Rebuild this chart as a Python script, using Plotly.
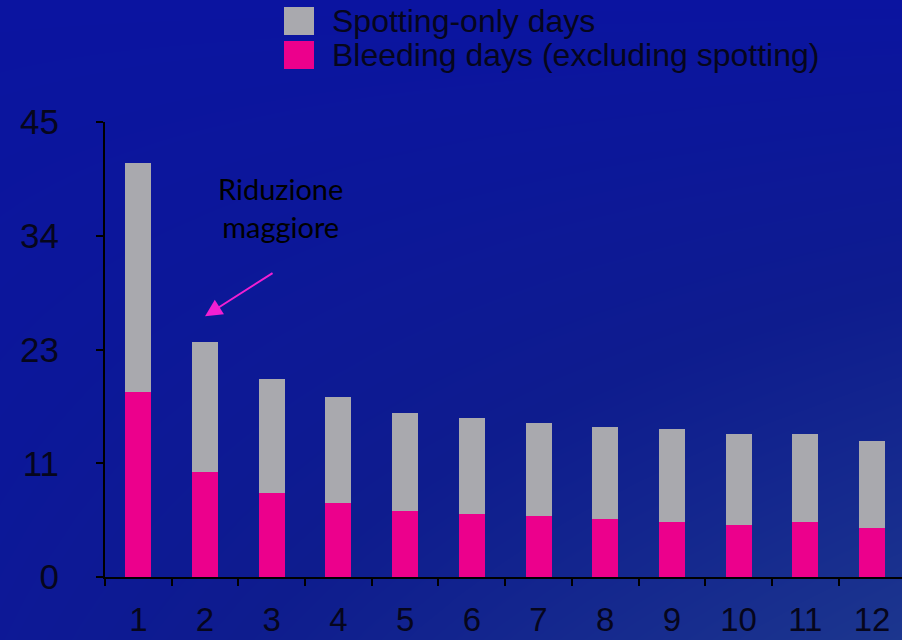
import numpy as np
import plotly.graph_objects as go

# Reference periods (x categories)
periods = ["1", "2", "3", "4", "5", "6", "7", "8", "9", "10", "11", "12"]
# Mean bleeding days (excluding spotting) per period
bleeding_days = [18.3, 10.4, 8.3, 7.3, 6.5, 6.2, 6.0, 5.7, 5.4, 5.1, 5.4, 4.8]
# Mean spotting-only days per period (stacked on top of bleeding)
spotting_days = [22.6, 12.8, 11.3, 10.5, 9.7, 9.5, 9.2, 9.1, 9.2, 9.0, 8.7, 8.7]
# Y axis ticks: evenly spaced quarters of 45, labelled rounded
y_tickvals = [0, 11.25, 22.5, 33.75, 45]
y_ticktext = ["0", "11", "23", "34", "45"]

PINK = "#ec008c"
GREY = "#a9a9ae"
INK = "#06061c"

# Blue slide background: a soft gradient, brighter blue on top,
# a little greyer towards the lower right.
ny, nx = 48, 72
gy = np.linspace(0, 1, ny)[:, None]   # 0 = bottom, 1 = top
gx = np.linspace(0, 1, nx)[None, :]
shade = np.clip((1 - gy) * (0.25 + 0.75 * gx), 0, 1)

fig = go.Figure()
fig.add_trace(go.Heatmap(
    z=shade, x=np.linspace(0, 1, nx), y=np.linspace(0, 1, ny),
    zmin=0, zmax=1, zsmooth="best", showscale=False, hoverinfo="skip",
    colorscale=[[0, "#0b14a0"], [0.45, "#0e1c8e"], [1, "#1c368e"]],
    xaxis="x", yaxis="y",
))

fig.add_trace(go.Bar(
    x=periods, y=bleeding_days, name="Bleeding days (excluding spotting)",
    marker=dict(color=PINK, line=dict(width=0)), width=0.39,
    xaxis="x2", yaxis="y2",
))
fig.add_trace(go.Bar(
    x=periods, y=spotting_days, name="Spotting-only days",
    marker=dict(color=GREY, line=dict(width=0)), width=0.39,
    xaxis="x2", yaxis="y2",
))

legend_items = [("Spotting-only days", GREY), ("Bleeding days (excluding spotting)", PINK)]
shapes = []
annotations = []
for i, (label, color) in enumerate(legend_items):
    top = 1 - (7 + i * 34) / 640
    shapes.append(dict(type="rect", xref="paper", yref="paper",
                       x0=284 / 902, x1=314 / 902, y0=top - 28 / 640, y1=top,
                       fillcolor=color, line=dict(width=0), layer="above"))
    annotations.append(dict(text=label, xref="paper", yref="paper",
                            x=330 / 902, y=top - 14 / 640, xanchor="left", yanchor="middle",
                            showarrow=False,
                            font=dict(family="Liberation Sans", size=32, color=INK)))

annotations.append(dict(
    text="Riduzione<br>maggiore", xref="paper", yref="paper",
    x=280 / 902, y=1 - 207 / 640, xanchor="center", yanchor="middle",
    showarrow=False, font=dict(family="Lato", size=29, color="#000000"),
))
# Arrow pointing at the second period's bar (category index 1)
annotations.append(dict(
    text="", x=periods.index("2"), y=25.8, xref="x2", yref="y2",
    ax=69, ay=-44, showarrow=True, arrowhead=2, arrowsize=1.7,
    arrowwidth=2, arrowcolor="#f21fd2",
))

fig.update_layout(
    width=902, height=640,
    margin=dict(l=0, r=0, t=0, b=0, autoexpand=False),
    paper_bgcolor="#0b14a0", plot_bgcolor="rgba(0,0,0,0)",
    barmode="stack", showlegend=False,
    shapes=shapes, annotations=annotations,
    xaxis=dict(domain=[0, 1], range=[0, 1], visible=False, fixedrange=True, automargin=False),
    yaxis=dict(domain=[0, 1], range=[0, 1], visible=False, fixedrange=True, automargin=False),
    xaxis2=dict(
        domain=[105 / 902, 1], anchor="y2", type="category",
        range=[-0.5, 11.45], tickson="boundaries", automargin=False,
        showline=True, linecolor="#000000", linewidth=2,
        ticks="outside", ticklen=7, tickwidth=2, tickcolor="#000000",
        showgrid=False, zeroline=False, ticklabelstandoff=12,
        tickfont=dict(family="Liberation Sans", size=33, color=INK),
    ),
    yaxis2=dict(
        domain=[63 / 640, 518 / 640], anchor="x2", range=[0, 45],
        tickvals=y_tickvals, ticktext=y_ticktext, automargin=False,
        showline=True, linecolor="#000000", linewidth=2,
        ticks="outside", ticklen=7, tickwidth=2, tickcolor="#000000",
        showgrid=False, zeroline=False, ticklabelstandoff=30,
        tickfont=dict(family="Liberation Sans", size=35, color=INK),
    ),
)

fig.write_html("out.html")
